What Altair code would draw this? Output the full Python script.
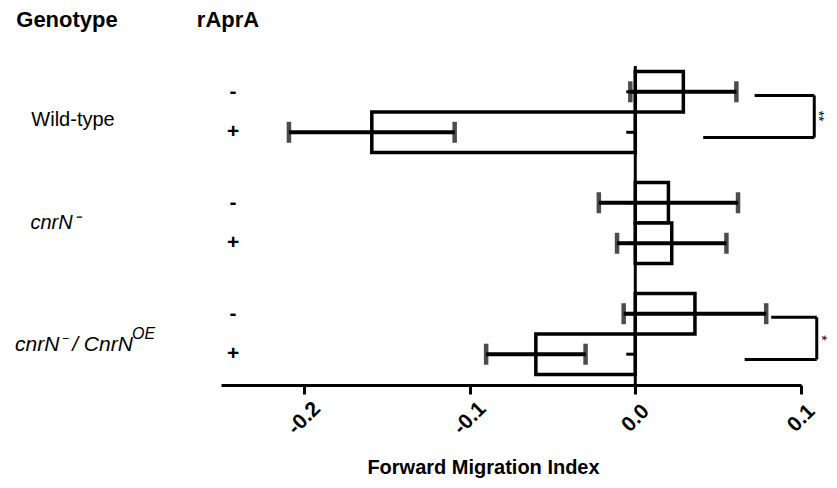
import altair as alt
import pandas as pd

# ---- data ----
genotypes = ["Wild-type", "cnrN-", "cnrN-/CnrN-OE"]
treatments = ["-", "+"]
row_genotype = ["Wild-type", "Wild-type", "cnrN-", "cnrN-", "cnrN-/CnrN-OE", "cnrN-/CnrN-OE"]
row_treatment = ["-", "+", "-", "+", "-", "+"]
means = [0.029, -0.159, 0.020, 0.022, 0.036, -0.060]
sems = [0.032, 0.050, 0.042, 0.033, 0.043, 0.030]

x_ticks = [-0.2, -0.1, 0.0, 0.1]

label_genotype = ["Wild-type", "cnrN-", "cnrN-/CnrN-OE"]
label_text = ["Wild-type", "cnrN\u207b", "cnrN\u207b / CnrN"]

bracket_genotype = ["Wild-type", "cnrN-/CnrN-OE"]
bracket_upper_start = [0.072, 0.082]
bracket_lower_start = [0.041, 0.066]
bracket_end = [0.108, 0.1095]
bracket_stars = ["**", "*"]

FONT = "Liberation Sans"

df = pd.DataFrame({
    "genotype": row_genotype,
    "treatment": row_treatment,
    "mean": means,
    "sem": sems,
})
df["lo"] = df["mean"] - df["sem"]
df["hi"] = df["mean"] + df["sem"]

br = pd.DataFrame({
    "genotype": bracket_genotype,
    "up": bracket_upper_start,
    "low": bracket_lower_start,
    "end": bracket_end,
    "stars": bracket_stars,
})

lab = pd.DataFrame({"genotype": label_genotype, "text": label_text})

W, H = 580, 324

x_scale = alt.Scale(domain=[-0.25, 0.1], nice=False, zero=False)
y_scale = alt.Scale(domain=genotypes, paddingInner=0.27, paddingOuter=0.095)
yo_scale = alt.Scale(domain=treatments, paddingInner=0, paddingOuter=0)

Y = alt.Y("genotype:N", scale=y_scale, axis=None)
YO = alt.YOffset("treatment:N", scale=yo_scale)

x_axis = alt.Axis(
    values=x_ticks,
    labelExpr="replace(format(datum.value, '.1f'), '\u2212', '-')",
    labelAngle=-45,
    labelAlign="center",
    labelBaseline="middle",
    labelPadding=24,
    labelFont=FONT,
    labelFontSize=21,
    labelFontWeight="bold",
    labelColor="black",
    domainColor="black",
    domainWidth=3,
    tickColor="black",
    tickWidth=3,
    tickSize=9,
    grid=False,
    title="Forward Migration Index",
    titleFont=FONT,
    titleFontSize=20,
    titleFontWeight="bold",
    titleColor="black",
    titleX=262,
    titleY=82,
    titleAlign="center",
    titleBaseline="middle",
)

base = alt.Chart(df)

bars = base.mark_bar(fill="white", stroke="black", strokeWidth=3.5, strokeJoin="miter").encode(
    x=alt.X("mean:Q", scale=x_scale, axis=x_axis),
    y=Y, yOffset=YO,
)

err = base.mark_rule(color="black", strokeWidth=4).encode(
    x="lo:Q", x2="hi:Q", y=Y, yOffset=YO,
)
cap_lo = base.mark_tick(color="black", size=21, thickness=4.5).encode(
    x="lo:Q", y=Y, yOffset=YO,
)
cap_hi = base.mark_tick(color="black", size=21, thickness=4.5).encode(
    x="hi:Q", y=Y, yOffset=YO,
)

zero_ticks = base.mark_rule(color="black", strokeWidth=3, x2Offset=-9).encode(
    x=alt.datum(0), x2=alt.datum(0), y=Y, yOffset=YO,
)

zero_line = alt.Chart(pd.DataFrame({"z": [0]})).mark_rule(color="black", strokeWidth=3).encode(
    x=alt.X("z:Q"), y=alt.value(5), y2=alt.value(H),
)

pm = base.mark_text(font=FONT, fontSize=21, fontWeight="bold", color="black").encode(
    x=alt.value(12), y=Y, yOffset=YO, text="treatment:N",
)

wt_lab = alt.Chart(lab).transform_filter(alt.datum.genotype == "Wild-type").mark_text(
    font=FONT, fontSize=20, color="black", align="center", dy=8
).encode(x=alt.value(-148), y=Y, text="text:N")

cn_lab = alt.Chart(lab).transform_filter(alt.datum.genotype == "cnrN-").mark_text(
    font=FONT, fontSize=20, fontStyle="italic", color="black", align="center", dy=0
).encode(x=alt.value(-166), y=Y, text="text:N")

oe_lab = alt.Chart(lab).transform_filter(alt.datum.genotype == "cnrN-/CnrN-OE").mark_text(
    font=FONT, fontSize=21, fontStyle="italic", color="black", align="left", dy=11
).encode(x=alt.value(-206), y=Y, text="text:N")

oe_sup = alt.Chart(lab).transform_filter(alt.datum.genotype == "cnrN-/CnrN-OE").mark_text(
    font=FONT, fontSize=16, fontStyle="italic", color="black", align="left", dy=0
).encode(x=alt.value(-89), y=Y, text=alt.value("OE"))

headers = alt.Chart(pd.DataFrame({"h": ["Genotype", "rAprA"], "px": [-154, 7]})).mark_text(
    font=FONT, fontSize=22, fontWeight="bold", color="black", align="center"
).encode(x=alt.X("px:Q", scale=None), y=alt.value(-41), text="h:N")

bc = alt.Chart(br)
up_arm = bc.mark_rule(color="black", strokeWidth=3).encode(
    x=alt.X("up:Q"), x2="end:Q", y=alt.Y("genotype:N", scale=y_scale, axis=None, bandPosition=0.295),
)
low_arm = bc.mark_rule(color="black", strokeWidth=3).encode(
    x=alt.X("low:Q"), x2="end:Q", y=alt.Y("genotype:N", scale=y_scale, axis=None, bandPosition=0.815),
)
vert = bc.mark_rule(color="black", strokeWidth=3).encode(
    x=alt.X("end:Q"),
    y=alt.Y("genotype:N", scale=y_scale, axis=None, bandPosition=0.295),
    y2=alt.Y2("genotype:N", bandPosition=0.815),
)
stars = bc.mark_text(font=FONT, fontSize=14, color="black", angle=90, baseline="middle",
                     align="center", xOffset=4).encode(
    x=alt.X("end:Q"),
    y=alt.Y("genotype:N", scale=y_scale, axis=None, bandPosition=0.55),
    text="stars:N",
)

chart = alt.layer(
    bars, err, cap_lo, cap_hi, zero_ticks, zero_line, pm,
    wt_lab, cn_lab, oe_lab, oe_sup, headers,
    up_arm, low_arm, vert, stars,
).properties(
    width=W, height=H,
    autosize=alt.AutoSizeParams(type="none"),
    padding={"left": 213, "top": 53, "right": 28, "bottom": 94},
    background="white",
).configure_view(stroke=None)

chart.save("out.html", embed_options={"renderer": "svg", "actions": False})
